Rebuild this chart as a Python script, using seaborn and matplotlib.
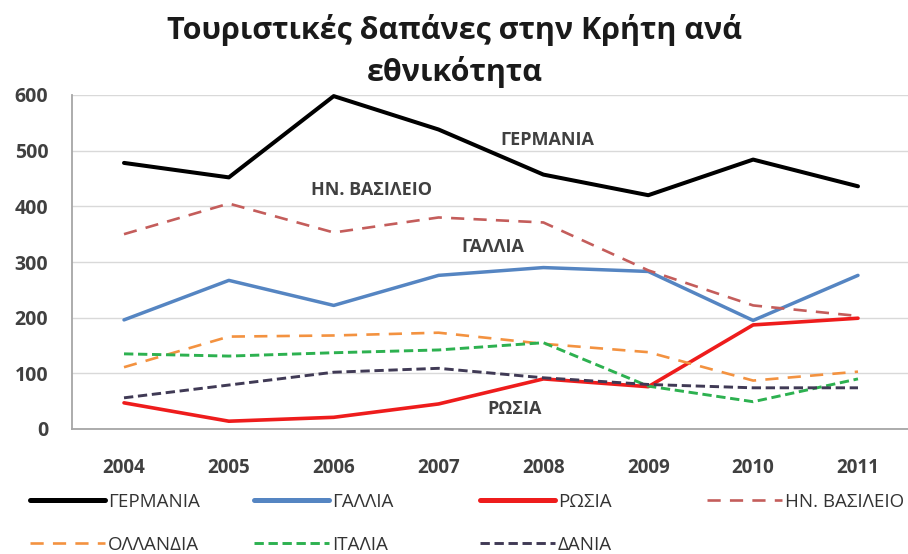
import matplotlib
matplotlib.use("Agg")
import matplotlib.pyplot as plt
import seaborn as sns

# Δεδομένα (εκτίμηση από το γράφημα)
years = [2004, 2005, 2006, 2007, 2008, 2009, 2010, 2011]
germany = [478, 452, 598, 538, 457, 420, 484, 436]
france = [196, 267, 222, 276, 290, 283, 195, 276]
russia = [47, 14, 21, 45, 90, 76, 187, 199]
uk = [350, 405, 353, 380, 371, 285, 222, 203]
netherlands = [111, 166, 168, 173, 153, 138, 87, 103]
italy = [135, 131, 137, 142, 155, 77, 49, 90]
denmark = [56, 79, 102, 109, 92, 80, 74, 74]

names = ["ΓΕΡΜΑΝΙΑ", "ΓΑΛΛΙΑ", "ΡΩΣΙΑ", "ΗΝ. ΒΑΣΙΛΕΙΟ", "ΟΛΛΑΝΔΙΑ", "ΙΤΑΛΙΑ", "ΔΑΝΙΑ"]
series = [germany, france, russia, uk, netherlands, italy, denmark]
title = "Τουριστικές δαπάνες στην Κρήτη ανά\nεθνικότητα"

sns.set_style("white")
plt.rcParams["font.family"] = ["Open Sans", "DejaVu Sans"]

colors = ["#000000", "#5585c2", "#ee1c1c", "#c45d5b", "#f39240", "#2db150", "#403a55"]
widths = [2.9, 2.5, 2.6, 1.9, 1.9, 2.1, 2.1]
styles = ["-", "-", "-", (0, (5, 3.5)), (0, (5, 3.5)), (0, (3.2, 1.6)), (0, (3.2, 1.6))]

fig = plt.figure(figsize=(9.08, 5.54), dpi=100)
ax = fig.add_axes([72 / 908, 1 - 429 / 554, 1 - 72 / 908, (429 - 95) / 554])

lines = []
for vals, c, w, ls in zip(series, colors, widths, styles):
    sns.lineplot(x=years, y=vals, color=c, linewidth=w, linestyle=ls, ax=ax)
    ln = ax.lines[-1]
    ln.set_clip_on(False)
    lines.append(ln)

ax.set_xlim(2003.504, 2011.477)
ax.set_ylim(0, 600)
ax.set_xticks(years)
ax.set_yticks(range(0, 601, 100))
ax.grid(axis="y", color="#d9d9d9", linewidth=1)
ax.set_axisbelow(True)
for s in ["top", "right"]:
    ax.spines[s].set_visible(False)
for s in ["left", "bottom"]:
    ax.spines[s].set_color("#a6a6a6")
    ax.spines[s].set_linewidth(1.3)
ax.tick_params(axis="y", length=0, pad=17, labelsize=14, labelcolor="#404040")
ax.tick_params(axis="x", length=0, pad=21, labelsize=13.5, labelcolor="#404040")
for lab in ax.get_xticklabels() + ax.get_yticklabels():
    lab.set_fontweight("bold")

# ετικέτες μέσα στο γράφημα
labels_in = [("ΓΕΡΜΑΝΙΑ", 2008.04, 520), ("ΗΝ. ΒΑΣΙΛΕΙΟ", 2006.36, 430),
             ("ΓΑΛΛΙΑ", 2007.52, 327), ("ΡΩΣΙΑ", 2007.72, 36)]
for txt, x, y in labels_in:
    ax.text(x, y, txt, ha="center", va="center", fontsize=13,
            fontweight="bold", color="#404040")

fig.text(0.501, 1 - 51 / 554, title, ha="center", va="center", fontsize=22,
         fontweight="bold", color="#1a1a1a", linespacing=1.37)

# υπόμνημα σε δύο σειρές
leg_pos = [(30, 502), (254, 502), (480, 502), (707, 502),
           (30, 545), (254, 545), (480, 545)]
for ln, name, (px, py) in zip(lines, names, leg_pos):
    leg = fig.legend(handles=[ln], labels=[name], loc="center left",
                     bbox_to_anchor=(px / 908, 1 - py / 554), frameon=False,
                     fontsize=13.5, handlelength=4.0, handletextpad=0.15,
                     borderpad=0, borderaxespad=0, labelcolor="#333333")
    if ln.get_linestyle() == "-":
        leg.get_lines()[0].set_linewidth(3.6)

fig.savefig("out.png", dpi=100)
